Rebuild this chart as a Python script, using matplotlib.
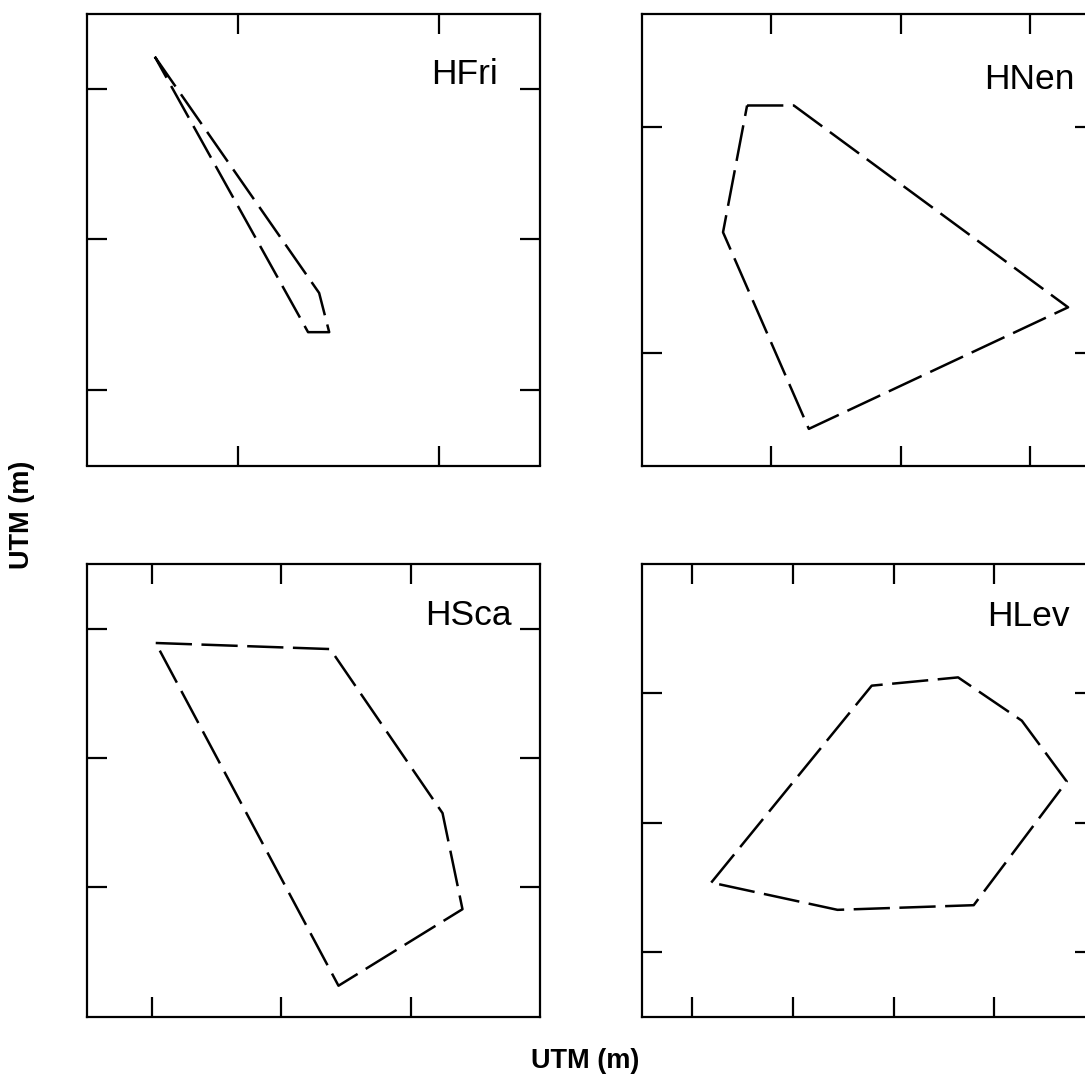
import matplotlib
matplotlib.use("Agg")
import matplotlib.pyplot as plt

plt.rcParams['font.family'] = ['Liberation Sans', 'DejaVu Sans']

# ---- data (UTM offsets, in tick units) ----
names = ["HFri", "HNen", "HSca", "HLev"]

hfri_x = [-0.413, 0.403, 0.453, 0.348]
hfri_y = [2.213, 0.645, 0.385, 0.385]

hnen_x = [-0.188, 0.173, 2.292, 0.289, -0.374]
hnen_y = [1.093, 1.093, 0.200, -0.338, 0.532]

hsca_x = [0.031, 1.379, 2.247, 2.401, 1.443]
hsca_y = [1.889, 1.842, 0.573, -0.170, -0.762]

hlev_x = [0.188, 1.782, 2.640, 3.273, 3.719, 2.795, 1.442]
hlev_y = [0.536, 2.059, 2.123, 1.788, 1.318, 0.361, 0.325]

xticks = [[0, 1], [0, 1, 2], [0, 1, 2], [0, 1, 2, 3]]
yticks = [[0, 1, 2], [0, 1], [0, 1, 2], [0, 1, 2]]
xlims = [(-0.75, 1.5), (-1.0, 2.5), (-0.5, 3.0), (-0.5, 4.0)]
ylims = [(-0.5, 2.5), (-0.5, 1.5), (-1.0, 2.5), (-0.5, 3.0)]

xs = [hfri_x, hnen_x, hsca_x, hlev_x]
ys = [hfri_y, hnen_y, hsca_y, hlev_y]

W, H = 1085, 1087
fig = plt.figure(figsize=(W / 100, H / 100), dpi=100)
fig.patch.set_facecolor('white')

# pixel boxes (left, top, width, height)
boxes = [(87, 13.5, 453, 452), (642, 13.5, 453, 452),
         (87, 564, 453, 452.5), (642, 564, 453, 452.5)]
label_pos = [(0.907, 0.843), (0.955, 0.834), (0.9375, 0.865), (0.945, 0.864)]

for i in range(4):
    l, t, w, h = boxes[i]
    ax = fig.add_axes([l / W, 1 - (t + h) / H, w / W, h / H])
    px = list(xs[i]) + [xs[i][0]]
    py = list(ys[i]) + [ys[i][0]]
    ax.plot(px, py, color='black', lw=1.8, linestyle=(0, (14.5, 3.8)))
    ax.set_xlim(*xlims[i])
    ax.set_ylim(*ylims[i])
    ax.set_xticks(xticks[i])
    ax.set_yticks(yticks[i])
    ax.tick_params(direction='in', length=14.4, width=1.6, top=True, right=True,
                   labelbottom=False, labelleft=False)
    for s in ax.spines.values():
        s.set_linewidth(1.6)
    ax.text(label_pos[i][0], label_pos[i][1], names[i], transform=ax.transAxes,
            ha='right', va='baseline', fontsize=25.5, color='black')

fig.text(585 / W, 1 - 1061 / H, "UTM (m)", ha='center', va='center',
         fontsize=19.5, fontweight='bold')
fig.text(22 / W, 1 - 515 / H, "UTM (m)", ha='center', va='center',
         fontsize=19.5, fontweight='bold', rotation=90)

fig.savefig("out.png", dpi=100)
